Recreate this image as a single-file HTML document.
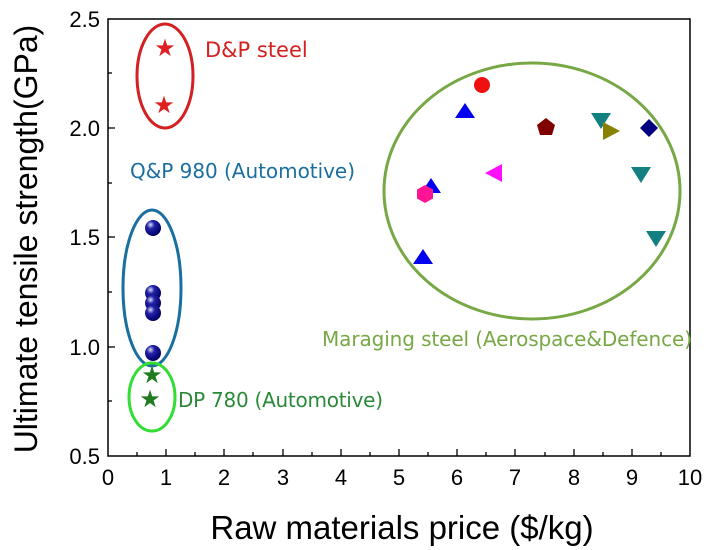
<!DOCTYPE html>
<html><head><style>body{margin:0;background:#fff}svg{display:block}</style></head><body>
<svg width="712" height="550" xmlns="http://www.w3.org/2000/svg" font-family="Liberation Sans, sans-serif">
<defs><radialGradient id="b" cx="0.35" cy="0.3" r="0.7"><stop offset="0" stop-color="#dde"/><stop offset="0.35" stop-color="#22a"/><stop offset="1" stop-color="#006"/></radialGradient></defs>
<rect x="108" y="19" width="582" height="437" fill="none" stroke="#000" stroke-width="1.5"/>
<g stroke="#000" stroke-width="1.3">
<line x1="108" y1="128" x2="115" y2="128"/><line x1="108" y1="237" x2="115" y2="237"/><line x1="108" y1="347" x2="115" y2="347"/>
<line x1="108" y1="73" x2="112" y2="73"/><line x1="108" y1="183" x2="112" y2="183"/><line x1="108" y1="292" x2="112" y2="292"/><line x1="108" y1="401" x2="112" y2="401"/>
</g>
<g font-size="22" text-anchor="end" fill="#000">
<text x="100" y="27">2.5</text><text x="100" y="136">2.0</text><text x="100" y="245">1.5</text><text x="100" y="355">1.0</text><text x="100" y="464">0.5</text>
</g>
<g font-size="22" text-anchor="middle" fill="#000">
<text x="108" y="485">0</text><text x="166" y="485">1</text><text x="224" y="485">2</text><text x="283" y="485">3</text><text x="341" y="485">4</text><text x="399" y="485">5</text><text x="457" y="485">6</text><text x="515" y="485">7</text><text x="574" y="485">8</text><text x="632" y="485">9</text><text x="690" y="485">10</text>
</g>
<g stroke="#000" stroke-width="1.3">
<line x1="166" y1="456" x2="166" y2="449"/><line x1="224" y1="456" x2="224" y2="449"/><line x1="283" y1="456" x2="283" y2="449"/><line x1="341" y1="456" x2="341" y2="449"/><line x1="399" y1="456" x2="399" y2="449"/><line x1="457" y1="456" x2="457" y2="449"/><line x1="515" y1="456" x2="515" y2="449"/><line x1="574" y1="456" x2="574" y2="449"/><line x1="632" y1="456" x2="632" y2="449"/>
<line x1="137" y1="456" x2="137" y2="452"/><line x1="195" y1="456" x2="195" y2="452"/><line x1="253" y1="456" x2="253" y2="452"/><line x1="312" y1="456" x2="312" y2="452"/><line x1="370" y1="456" x2="370" y2="452"/><line x1="428" y1="456" x2="428" y2="452"/><line x1="486" y1="456" x2="486" y2="452"/><line x1="545" y1="456" x2="545" y2="452"/><line x1="603" y1="456" x2="603" y2="452"/><line x1="661" y1="456" x2="661" y2="452"/>
</g>
<text x="402" y="539" font-size="33" text-anchor="middle">Raw materials price ($/kg)</text>
<text transform="translate(37,239) rotate(-90)" font-size="32" text-anchor="middle">Ultimate tensile strength(GPa)</text>
<g fill="none" stroke-width="3">
<ellipse cx="165" cy="76" rx="28" ry="52" stroke="#d42020"/>
<ellipse cx="152" cy="288" rx="29" ry="78" stroke="#1a6fa0"/>
<ellipse cx="152" cy="397" rx="23" ry="34" stroke="#33dd33"/>
<ellipse cx="532" cy="191" rx="148" ry="128" stroke="#77a845"/>
</g>
<g font-family="DejaVu Sans, sans-serif" font-size="20">
<text x="205" y="57" fill="#d42020" font-size="21">D&amp;P steel</text>
<text x="130" y="178" fill="#1a6fa0" textLength="225">Q&amp;P 980 (Automotive)</text>
<text x="178" y="407" fill="#2a8a3a" textLength="205">DP 780 (Automotive)</text>
<text x="322" y="346" fill="#77a845" textLength="370">Maraging steel (Aerospace&amp;Defence)</text>
</g>
<g font-size="24" text-anchor="middle">
<text x="165" y="56" fill="#e02020">★</text><text x="164" y="113" fill="#e02020">★</text>
<text x="152" y="383" fill="#207a20">★</text><text x="150" y="407" fill="#207a20">★</text>
</g>
<g fill="url(#b)">
<circle cx="153" cy="228" r="8"/><circle cx="153" cy="293" r="8"/><circle cx="153" cy="303" r="8"/><circle cx="153" cy="313" r="8"/><circle cx="153" cy="353" r="8"/>
</g>
<circle cx="482" cy="85" r="8" fill="#f01010"/>
<polygon points="465,103 475,118 455,118" fill="#0000ee"/>
<polygon points="423,249 433,264 413,264" fill="#0000ee"/>
<polygon points="431,178 441,193 421,193" fill="#0000ee"/>
<polygon points="546,118 555,125 552,135 540,135 537,125" fill="#800000"/>
<polygon points="591,113 611,113 601,129" fill="#128080"/>
<polygon points="631,167 651,167 641,183" fill="#128080"/>
<polygon points="646,231 666,231 656,247" fill="#128080"/>
<polygon points="603,122 620,131 603,140" fill="#888000"/>
<polygon points="649,119 658,128 649,137 640,128" fill="#000080"/>
<polygon points="502,164 502,182 485,173" fill="#ff10ff"/>
<polygon points="425,185 433,189.5 433,198.5 425,203 417,198.5 417,189.5" fill="#ff1493"/>
</svg>
</body></html>
